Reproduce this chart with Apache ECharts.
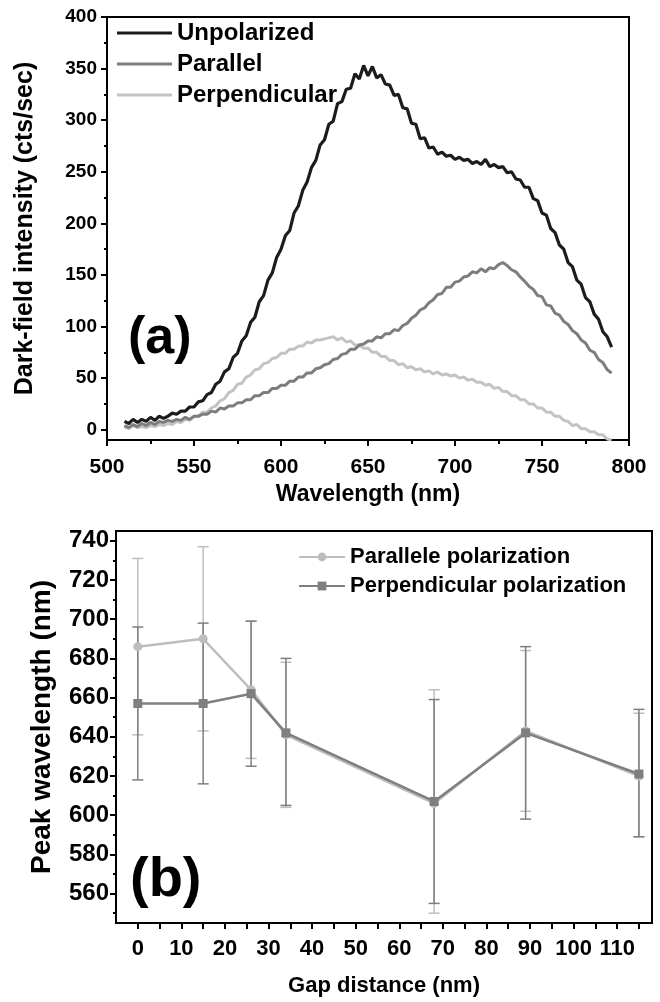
<!DOCTYPE html>
<html>
<head>
<meta charset="utf-8">
<script src="https://cdn.jsdelivr.net/npm/echarts@6/dist/echarts.min.js"></script>
<style>
html,body{margin:0;padding:0;background:#fff;}
#chart{width:660px;height:1002px;}
</style>
</head>
<body>
<div id="chart"></div>
<script>
// ---------- Panel (a): dark-field spectra, sampled every 2.5 nm from 510 nm ----------
const wlStart = 510;
const wlStep = 2.5;
const unpolarized = [
  8,6,10,7,10,8,12,9,13,11,13,16,15,
  18,18,22,22,27,28,34,36,
  44,47,56,59,70,74,86,91,
  104,109,124,130,145,152,167,175,
  188,193,210,217,232,240,254,261,
  276,281,296,299,316,318,330,331,
  345,340,353,343,352,341,344,335,
  334,324,325,312,311,297,296,282,
  283,273,274,267,269,265,266,262,
  264,261,262,258,260,257,262,255,
  257,254,255,249,250,243,242,235,
  235,224,222,210,208,195,191,179,
  175,162,158,145,141,128,124,112,
  107,95,90,80
];
const parallel = [
  4,2,5,3,6,4,7,5,8,7,9,8,10,
  9,12,10,13,13,15,15,18,
  17,21,20,23,23,26,26,29,
  29,33,33,36,36,40,40,43,
  43,47,47,51,51,55,55,59,
  60,63,64,68,69,73,74,78,
  78,82,83,86,86,90,89,93,
  93,97,96,101,103,108,111,116,
  118,123,126,131,132,138,138,143,
  144,148,149,153,152,156,153,157,
  156,160,162,159,155,153,148,144,
  139,136,130,129,121,120,113,111,
  105,102,96,93,87,84,77,75,
  68,65,58,55
];
const perpendicular = [
  3,1,4,2,3,2,4,3,5,4,6,5,8,7,10,9,13,13,17,17,21,23,28,30,36,38,44,45,51,53,
  58,59,64,65,69,70,74,74,78,78,81,81,85,84,87,87,88,89,90,87,89,85,86,82,82,79,
  79,75,75,71,71,67,67,63,64,60,61,58,59,56,57,54,56,53,54,52,53,50,51,48,49,46,
  46,43,44,40,41,37,37,33,33,29,29,25,25,21,21,17,17,13,13,9,8,4,5,1,1,-2,-2,
  -5,-5,-9,-10
];
const specYTicks = [0,50,100,150,200,250,300,350,400];
const specYMinor = [25,75,125,175,225,275,325,375];

// ---------- Panel (b): peak wavelength vs gap ----------
const gap = [0, 15, 26, 34, 68, 89, 115];
const paraPeak = [686, 690, 664, 641, 606, 643, 620];
const paraLow  = [641, 643, 629, 604, 550, 602, 589];
const paraHigh = [731, 737, 699, 678, 664, 684, 652];
const perpPeak = [657, 657, 662, 642, 607, 642, 621];
const perpLow  = [618, 616, 625, 605, 555, 598, 589];
const perpHigh = [696, 698, 699, 680, 659, 686, 654];
const gapLabels = [0,10,20,30,40,50,60,70,80,90,100,110];
const gapTicks = [0,5,10,15,20,25,30,35,40,45,50,55,60,65,70,75,80,85,90,95,100,105,110,115];
const peakTicks = [560,580,600,620,640,660,680,700,720,740];
const peakMinor = [550,570,590,610,630,650,670,690,710,730];

const FONT = '"Liberation Sans", Arial, Helvetica, sans-serif';
const C_UNPOL = '#1f1b1c', C_PAR = '#7d7d7d', C_PERP = '#c3c3c3';
const C_B_PARA = '#bdbdbd', C_B_PERP = '#7f7f7f';

const toXY = arr => arr.map((v, i) => [wlStart + i * wlStep, v]);

function errorBars(low, high, color) {
  return {
    type: 'custom', xAxisIndex: 1, yAxisIndex: 2, silent: true,
    data: gap.map((g, i) => [g, low[i], high[i]]),
    renderItem: function (params, api) {
      const x = api.value(0);
      const p1 = api.coord([x, api.value(1)]);
      const p2 = api.coord([x, api.value(2)]);
      const w = 5.5;
      const st = { stroke: color, lineWidth: 1.5 };
      return { type: 'group', children: [
        { type: 'line', shape: { x1: p1[0], y1: p1[1], x2: p2[0], y2: p2[1] }, style: st },
        { type: 'line', shape: { x1: p1[0] - w, y1: p1[1], x2: p1[0] + w, y2: p1[1] }, style: st },
        { type: 'line', shape: { x1: p2[0] - w, y1: p2[1], x2: p2[0] + w, y2: p2[1] }, style: st }
      ]};
    },
    z: 2
  };
}

const axisLineStyle = { show: true, onZero: false, lineStyle: { color: '#000', width: 2 } };
const labelStyle = (size) => ({ color: '#000', fontSize: size, fontWeight: 'bold', fontFamily: FONT });

const option = {
  animation: false,
  backgroundColor: '#fff',
  grid: [
    { left: 107, top: 17, right: 31, bottom: 562, show: true, borderColor: '#000', borderWidth: 2, outerBoundsMode: 'none', containLabel: false },
    { left: 116, top: 531, right: 8, bottom: 79, show: true, borderColor: '#000', borderWidth: 2, outerBoundsMode: 'none', containLabel: false }
  ],
  xAxis: [
    {
      gridIndex: 0, type: 'value', min: 500, max: 800, interval: 50,
      axisLine: axisLineStyle,
      axisTick: { show: true, inside: false, length: 6, lineStyle: { color: '#000', width: 2 } },
      minorTick: { show: true, splitNumber: 2, length: 4, lineStyle: { color: '#000', width: 2 } },
      splitLine: { show: false }, minorSplitLine: { show: false },
      axisLabel: Object.assign({ margin: 17 }, labelStyle(21)),
      name: 'Wavelength (nm)', nameLocation: 'middle', nameGap: 43,
      nameTextStyle: labelStyle(23)
    },
    {
      gridIndex: 1, type: 'value', min: -5, max: 118,
      axisLine: axisLineStyle,
      axisTick: { show: true, length: 6, customValues: gapTicks, lineStyle: { color: '#000', width: 2 } },
      splitLine: { show: false },
      axisLabel: Object.assign({ margin: 15, customValues: gapLabels }, labelStyle(22)),
      name: 'Gap distance (nm)', nameLocation: 'middle', nameGap: 52,
      nameTextStyle: labelStyle(22)
    }
  ],
  yAxis: [
    {
      gridIndex: 0, type: 'value', min: -10, max: 400, position: 'left',
      axisLine: axisLineStyle,
      axisTick: { show: true, length: 6, customValues: specYTicks, lineStyle: { color: '#000', width: 2 } },
      splitLine: { show: false },
      axisLabel: Object.assign({ margin: 10, customValues: specYTicks }, labelStyle(19)),
      name: 'Dark-field intensity (cts/sec)', nameLocation: 'middle', nameGap: 69,
      nameTextStyle: labelStyle(25)
    },
    {
      gridIndex: 0, type: 'value', min: -10, max: 400, position: 'left', offset: 0,
      axisLine: { show: false, onZero: false },
      axisTick: { show: true, length: 3, customValues: specYMinor, lineStyle: { color: '#000', width: 2 } },
      axisLabel: { show: false, customValues: specYMinor },
      splitLine: { show: false }
    },
    {
      gridIndex: 1, type: 'value', min: 545, max: 745, position: 'left',
      axisLine: axisLineStyle,
      axisTick: { show: true, length: 6, customValues: peakTicks, lineStyle: { color: '#000', width: 2 } },
      splitLine: { show: false },
      axisLabel: Object.assign({ margin: 7, customValues: peakTicks }, labelStyle(24)),
      name: 'Peak wavelength (nm)', nameLocation: 'middle', nameGap: 60,
      nameTextStyle: labelStyle(28)
    },
    {
      gridIndex: 1, type: 'value', min: 545, max: 745, position: 'left', offset: 0,
      axisLine: { show: false, onZero: false },
      axisTick: { show: true, length: 3, customValues: peakMinor, lineStyle: { color: '#000', width: 2 } },
      axisLabel: { show: false, customValues: peakMinor },
      splitLine: { show: false }
    }
  ],
  legend: [
    {
      orient: 'vertical', left: 112, top: 16, itemGap: 7, itemWidth: 55, itemHeight: 3, icon: 'rect',
      data: ['Unpolarized', 'Parallel', 'Perpendicular'],
      textStyle: Object.assign({ lineHeight: 24 }, labelStyle(24)), selectedMode: false
    },
    {
      orient: 'vertical', left: 293, top: 541, itemGap: 7, itemWidth: 46, itemHeight: 11,
      data: ['Parallele polarization', 'Perpendicular polarization'],
      textStyle: labelStyle(22), selectedMode: false
    }
  ],
  graphic: [
    { type: 'text', left: 128, top: 313, style: { text: '(a)', fill: '#000', font: 'bold 52px ' + FONT } },
    { type: 'text', left: 130, top: 853, style: { text: '(b)', fill: '#000', font: 'bold 56px ' + FONT } }
  ],
  series: [
    { name: 'Perpendicular', type: 'line', xAxisIndex: 0, yAxisIndex: 0, data: toXY(perpendicular),
      symbol: 'none', color: C_PERP, lineStyle: { color: C_PERP, width: 3 }, z: 3 },
    { name: 'Parallel', type: 'line', xAxisIndex: 0, yAxisIndex: 0, data: toXY(parallel),
      symbol: 'none', color: C_PAR, lineStyle: { color: C_PAR, width: 3 }, z: 4 },
    { name: 'Unpolarized', type: 'line', xAxisIndex: 0, yAxisIndex: 0, data: toXY(unpolarized),
      symbol: 'none', color: C_UNPOL, lineStyle: { color: C_UNPOL, width: 3.2 }, z: 5 },

    errorBars(paraLow, paraHigh, C_B_PARA),
    errorBars(perpLow, perpHigh, C_B_PERP),

    { name: 'Parallele polarization', type: 'line', xAxisIndex: 1, yAxisIndex: 2,
      data: gap.map((g, i) => [g, paraPeak[i]]),
      symbol: 'circle', symbolSize: 9, color: C_B_PARA,
      itemStyle: { color: C_B_PARA }, lineStyle: { color: C_B_PARA, width: 2.5 }, z: 5 },
    { name: 'Perpendicular polarization', type: 'line', xAxisIndex: 1, yAxisIndex: 2,
      data: gap.map((g, i) => [g, perpPeak[i]]),
      symbol: 'rect', symbolSize: 9, color: C_B_PERP,
      itemStyle: { color: C_B_PERP }, lineStyle: { color: C_B_PERP, width: 2.5 }, z: 6 }
  ]
};

const chart = echarts.init(document.getElementById('chart'), null, { renderer: 'canvas' });
chart.setOption(option);
</script>
</body>
</html>
